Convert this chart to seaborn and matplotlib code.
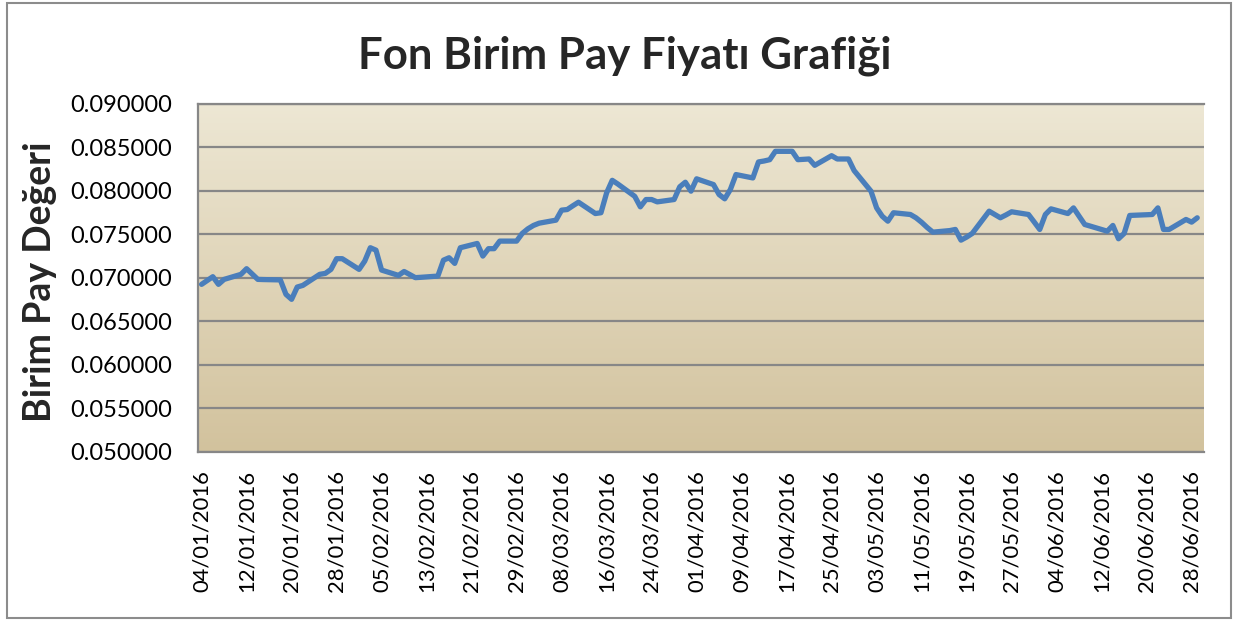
import numpy as np
import pandas as pd
import seaborn as sns
import matplotlib.pyplot as plt
import matplotlib.dates as mdates
from matplotlib.patches import Rectangle
from matplotlib.ticker import FormatStrFormatter, MultipleLocator

# Fon birim pay fiyatlari
tarihler = [
    "04/01/2016", "06/01/2016", "07/01/2016", "08/01/2016", "11/01/2016", "12/01/2016",
    "14/01/2016", "15/01/2016", "18/01/2016", "19/01/2016", "20/01/2016", "21/01/2016",
    "22/01/2016", "25/01/2016", "26/01/2016", "27/01/2016", "28/01/2016", "29/01/2016",
    "01/02/2016", "02/02/2016", "03/02/2016", "04/02/2016", "05/02/2016", "08/02/2016",
    "09/02/2016", "10/02/2016", "11/02/2016", "12/02/2016", "15/02/2016", "16/02/2016",
    "17/02/2016", "18/02/2016", "19/02/2016", "22/02/2016", "23/02/2016", "24/02/2016",
    "25/02/2016", "26/02/2016", "29/02/2016", "01/03/2016", "02/03/2016", "03/03/2016",
    "04/03/2016", "07/03/2016", "08/03/2016", "09/03/2016", "10/03/2016", "11/03/2016",
    "14/03/2016", "15/03/2016", "16/03/2016", "17/03/2016", "18/03/2016", "21/03/2016",
    "22/03/2016", "23/03/2016", "24/03/2016", "25/03/2016", "28/03/2016", "29/03/2016",
    "30/03/2016", "31/03/2016", "01/04/2016", "04/04/2016", "05/04/2016", "06/04/2016",
    "07/04/2016", "08/04/2016", "11/04/2016", "12/04/2016", "13/04/2016", "14/04/2016",
    "15/04/2016", "18/04/2016", "19/04/2016", "20/04/2016", "21/04/2016", "22/04/2016",
    "25/04/2016", "26/04/2016", "27/04/2016", "28/04/2016", "29/04/2016", "02/05/2016",
    "03/05/2016", "04/05/2016", "05/05/2016", "06/05/2016", "09/05/2016", "10/05/2016",
    "11/05/2016", "12/05/2016", "13/05/2016", "16/05/2016", "17/05/2016", "18/05/2016",
    "19/05/2016", "20/05/2016", "23/05/2016", "24/05/2016", "25/05/2016", "26/05/2016",
    "27/05/2016", "30/05/2016", "31/05/2016", "01/06/2016", "02/06/2016", "03/06/2016",
    "06/06/2016", "07/06/2016", "08/06/2016", "09/06/2016", "10/06/2016", "13/06/2016",
    "14/06/2016", "15/06/2016", "16/06/2016", "17/06/2016", "20/06/2016", "21/06/2016",
    "22/06/2016", "23/06/2016", "24/06/2016", "27/06/2016", "28/06/2016", "29/06/2016",
]
fiyatlar = [
    0.06927, 0.07015, 0.06927, 0.06984, 0.07042, 0.07107,
    0.06984, 0.06982, 0.06978, 0.06812, 0.06755, 0.06896,
    0.06915, 0.07042, 0.07053, 0.07099, 0.07222, 0.07222,
    0.07099, 0.07194, 0.07348, 0.07320, 0.07091, 0.07030,
    0.07075, 0.07040, 0.07004, 0.07008, 0.07022, 0.07205,
    0.07233, 0.07168, 0.07348, 0.07397, 0.07252, 0.07337,
    0.07337, 0.07424, 0.07424, 0.07512, 0.07565, 0.07604,
    0.07630, 0.07665, 0.07780, 0.07787, 0.07830, 0.07871,
    0.07741, 0.07750, 0.07978, 0.08123, 0.08080, 0.07939,
    0.07818, 0.07902, 0.07902, 0.07875, 0.07902, 0.08048,
    0.08101, 0.07998, 0.08140, 0.08074, 0.07959, 0.07910,
    0.08017, 0.08189, 0.08150, 0.08334, 0.08345, 0.08360,
    0.08456, 0.08456, 0.08360, 0.08364, 0.08368, 0.08295,
    0.08406, 0.08368, 0.08368, 0.08368, 0.08235, 0.07998,
    0.07806, 0.07710, 0.07653, 0.07750, 0.07730, 0.07692,
    0.07640, 0.07580, 0.07527, 0.07545, 0.07558, 0.07435,
    0.07470, 0.07512, 0.07768, 0.07730, 0.07692, 0.07725,
    0.07761, 0.07730, 0.07645, 0.07558, 0.07730, 0.07795,
    0.07741, 0.07806, 0.07710, 0.07615, 0.07596, 0.07538,
    0.07604, 0.07451, 0.07512, 0.07719, 0.07727, 0.07730,
    0.07806, 0.07558, 0.07558, 0.07673, 0.07642, 0.07692,
]
eksen_tarihleri = [
    "04/01/2016", "12/01/2016", "20/01/2016", "28/01/2016", "05/02/2016", "13/02/2016",
    "21/02/2016", "29/02/2016", "08/03/2016", "16/03/2016", "24/03/2016", "01/04/2016",
    "09/04/2016", "17/04/2016", "25/04/2016", "03/05/2016", "11/05/2016", "19/05/2016",
    "27/05/2016", "04/06/2016", "12/06/2016", "20/06/2016", "28/06/2016",
]

df = pd.DataFrame({
    "Tarih": pd.to_datetime(tarihler, format="%d/%m/%Y"),
    "Deger": fiyatlar,
})
ticks = pd.to_datetime(eksen_tarihleri, format="%d/%m/%Y")

sns.set_style("white")
plt.rcParams["font.family"] = ["Lato", "DejaVu Sans"]

fig = plt.figure(figsize=(12.4, 6.21), dpi=100)
ax = fig.add_axes([198.3 / 1240, 169 / 621, (1204 - 198.3) / 1240, 348 / 621])

# arka plan gradyani
top = np.array([237, 231, 212]) / 255
bottom = np.array([210, 194, 157]) / 255
t = np.linspace(0, 1, 256)[:, None, None]
grad = top * (1 - t) + bottom * t
ax.imshow(grad, extent=[0, 1, 0, 1], transform=ax.transAxes, aspect="auto", zorder=0)

sns.lineplot(data=df, x="Tarih", y="Deger", color="#4A7EBB", linewidth=3.8, ax=ax, zorder=3)
ax.lines[-1].set_solid_capstyle("round")
ax.lines[-1].set_solid_joinstyle("round")

start = df["Tarih"].iloc[0]
ax.set_xlim(start - pd.Timedelta(hours=14), start + pd.Timedelta(days=178.2))
ax.set_ylim(0.05, 0.09)
ax.yaxis.set_major_locator(MultipleLocator(0.005))
ax.yaxis.set_major_formatter(FormatStrFormatter("%.6f"))
ax.set_xticks(ticks)
ax.xaxis.set_major_formatter(mdates.DateFormatter("%d/%m/%Y"))
ax.tick_params(axis="x", labelrotation=90, labelsize=15.8, length=0, pad=13, colors="black")
ax.tick_params(axis="y", labelsize=17, length=0, pad=19, colors="black")

ax.grid(axis="y", color="#878787", linewidth=1.6, zorder=1)
ax.grid(axis="x", visible=False)
ax.set_axisbelow(True)
for side in ["left", "bottom", "top"]:
    ax.spines[side].set_color("#878787")
    ax.spines[side].set_linewidth(1.6)
ax.spines["right"].set_visible(False)
ax.set_xlabel("")
ax.set_ylabel("")

fig.text(0.504, 0.911, "Fon Birim Pay Fiyatı Grafiği", ha="center", va="center",
         fontsize=31.5, fontweight="bold")
fig.text(40 / 1240, 1 - 282 / 621, "Birim Pay Değeri", ha="center", va="center",
         rotation=90, fontsize=27, fontweight="bold")

fig.patches.append(Rectangle((7 / 1240, 3 / 621), 1224 / 1240, 615 / 621,
                             transform=fig.transFigure, fill=False,
                             edgecolor="#8c8c8c", linewidth=1.5))

fig.savefig("out.png", dpi=100)
